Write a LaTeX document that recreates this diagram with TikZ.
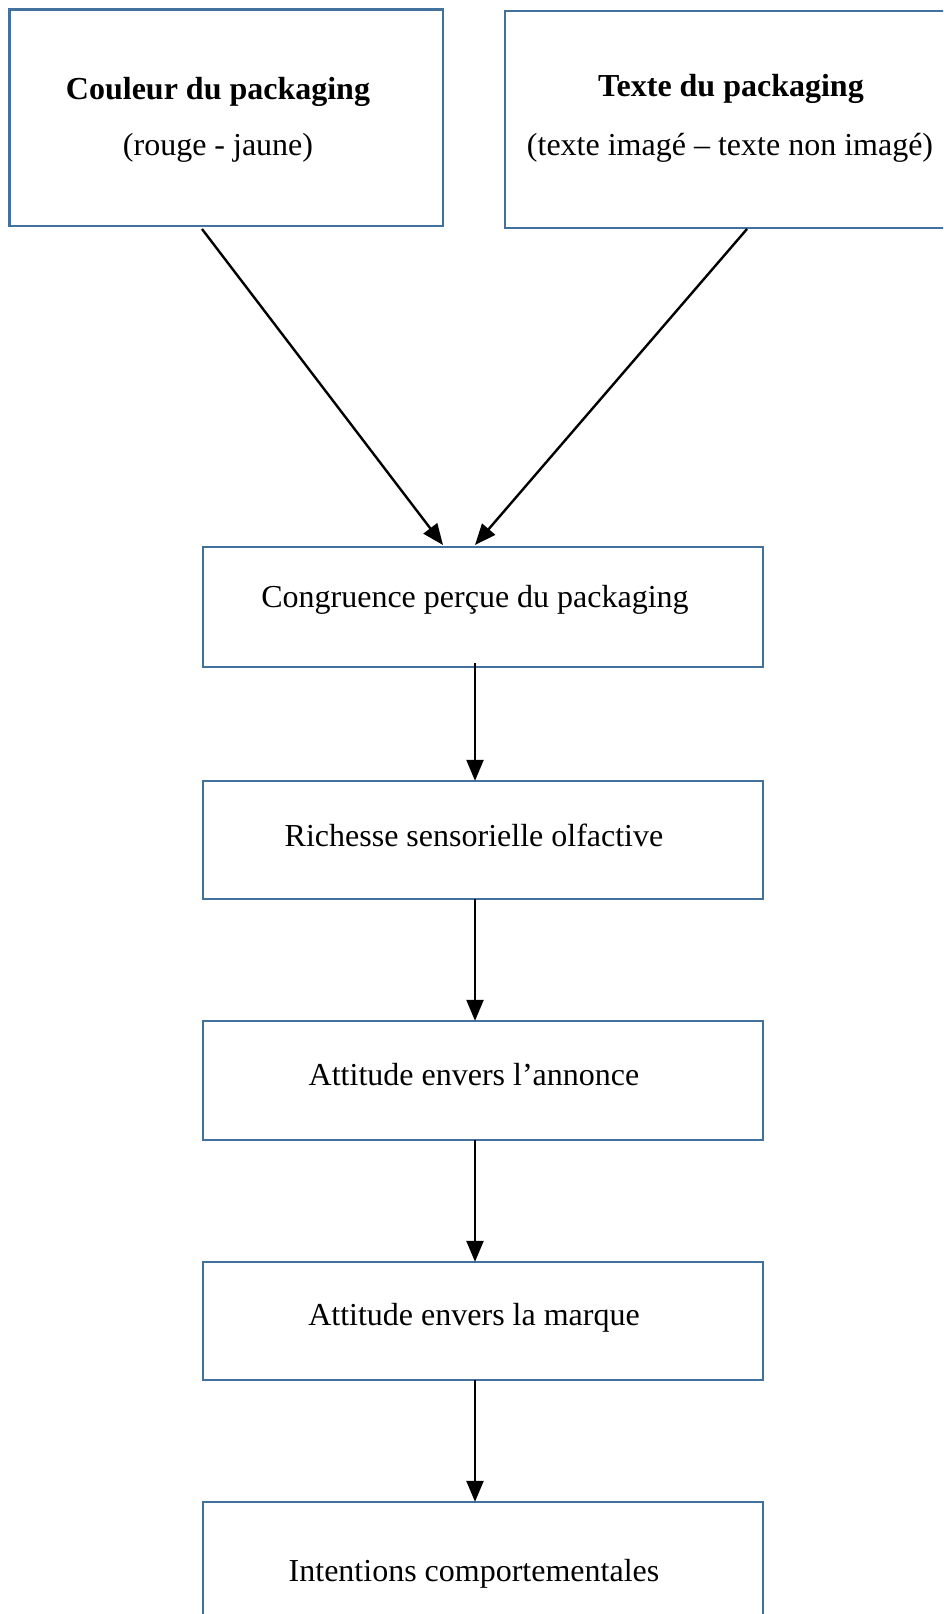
\documentclass[tikz,border=0pt]{standalone}
\usepackage{fontspec}
\setmainfont{Liberation Serif}
\usetikzlibrary{arrows.meta}
\definecolor{boxblue}{RGB}{65,113,156}
\tikzset{
  box/.style={draw=boxblue, line width=2.4pt, fill=white},
  txt/.style={anchor=base, inner sep=0pt, font=\fontsize{32}{38}\selectfont},
  btxt/.style={txt, font=\fontsize{32}{38}\selectfont\bfseries},
  arr/.style={line width=2.4pt, -{Triangle[length=21pt,width=17pt]}}
}
\begin{document}
\begin{tikzpicture}[x=1pt,y=-1pt]
\clip (0,0) rectangle (943,1614);
\fill[white] (0,0) rectangle (943,1614);
% boxes
\draw[box] (9.5,9.5) rectangle (443,226);
\node[inner sep=0pt, minimum width=433.5pt, minimum height=216.5pt] (b1) at (226.25,117.75) {};
\draw[box] (505,11) rectangle (970,228);
\node[inner sep=0pt, minimum width=465pt, minimum height=217pt] (b2) at (737.5,119.5) {};
\draw[box] (203,547) rectangle (763,667);
\node[inner sep=0pt, minimum width=560pt, minimum height=120pt] (b3) at (483,607) {};
\draw[box] (203,781) rectangle (763,899);
\node[inner sep=0pt, minimum width=560pt, minimum height=118pt] (b4) at (483,840) {};
\draw[box] (203,1021) rectangle (763,1140);
\node[inner sep=0pt, minimum width=560pt, minimum height=119pt] (b5) at (483,1080.5) {};
\draw[box] (203,1262) rectangle (763,1380);
\node[inner sep=0pt, minimum width=560pt, minimum height=118pt] (b6) at (483,1321) {};
\draw[box] (203,1502) rectangle (763,1640);
\node[inner sep=0pt, minimum width=560pt, minimum height=138pt] (b7) at (483,1571) {};
% texts
\node[btxt] (t1a) at (218,99) {Couleur du packaging};
\node[txt] (t1b) at (218,155) {(rouge - jaune)};
\node[btxt] (t2a) at (731,96) {Texte du packaging};
\node[txt] (t2b) at (730,155) {(texte imagé – texte non imagé)};
\node[txt] (t3) at (475,607) {Congruence perçue du packaging};
\node[txt] (t4) at (474,846) {Richesse sensorielle olfactive};
\node[txt] (t5) at (474,1085) {Attitude envers l’annonce};
\node[txt] (t6) at (474,1325) {Attitude envers la marque};
\node[txt] (t7) at (474,1581) {Intentions comportementales};
% connectors
\coordinate (s1) at (202,229);
\coordinate (e1) at (443,545);
\coordinate (s2) at (747,229);
\coordinate (e2) at (475,545);
\coordinate (v) at (475,0);
\draw[arr] (s1) -- (e1);
\draw[arr] (s2) -- (e2);
\draw[arr] (b3.south -| v) ++(0,-4) -- (b4.north -| v);
\draw[arr] (b4.south -| v) -- (b5.north -| v);
\draw[arr] (b5.south -| v) -- (b6.north -| v);
\draw[arr] (b6.south -| v) -- (b7.north -| v);
\end{tikzpicture}
\end{document}
